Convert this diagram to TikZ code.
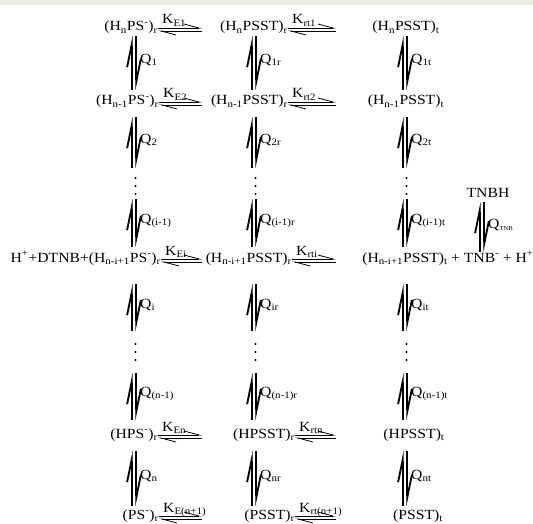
\documentclass[tikz,border=0pt]{standalone}
\usepackage{fontspec}
\setmainfont{Liberation Serif}[FakeStretch=1.12]
\usepackage{tikz}
\usetikzlibrary{arrows.meta,positioning}
\definecolor{bandgreen}{RGB}{235,239,224}
\newcommand{\sbs}[1]{\textsubscript{#1}}
\newcommand{\sps}[1]{\textsuperscript{#1}}
\newcommand{\spfont}{\fontsize{14}{16}\selectfont}
% vertical equilibrium: upper point, gap, lower point, gap, column, label
\newcommand{\eqv}[6]{%
  \path (#1 -| #5) ++(0,#2) coordinate (vt) (#3 -| #5) ++(0,-#4) coordinate (vb);
  \draw[vup] ([xshift=-2.4pt]vb) -- ([xshift=-2.4pt]vt);
  \draw[vup] ([xshift=2.4pt]vt) -- ([xshift=2.4pt]vb);
  \path (vt) -- (vb) node[qlab, pos=0.45, xshift=6pt] {#6};
}
% horizontal equilibrium: species node, end column, label
\newcommand{\eqh}[3]{%
  \path (#1.base east) coordinate (hs) (#1.base -| #2) coordinate (he);
  \draw[hup] ([yshift=3pt]hs) -- ([yshift=3pt]he);
  \draw[hup] (he) -- (hs);
  \node[klab] at ([xshift=4pt,yshift=7pt]hs) {#3};
}

\begin{document}
\begin{tikzpicture}[x=1pt, y=-1pt,
    sp/.style={inner sep=0pt, font=\spfont},
    klab/.style={inner sep=0pt, anchor=base west, font=\spfont},
    qlab/.style={inner sep=0pt, anchor=west, font=\spfont},
    vup/.style={line width=1.85pt, -{Straight Barb[left, length=22pt, width=9pt]}},
    hup/.style={line width=0.8pt, -{Straight Barb[left, length=15pt, width=8pt]}}
]
\useasboundingbox (0,0) rectangle (533,524);
\fill[bandgreen] (0,0) rectangle (533,5);

% columns and dotted rows
\coordinate (colA) at (134,0);
\coordinate (colB) at (254,0);
\coordinate (colC) at (405,0);
\coordinate (colD) at (482,0);
\coordinate (endA) at (202,0);
\coordinate (endB) at (336,0);
\coordinate (dots1) at (0,186);
\coordinate (dots2) at (0,352);

% species, column A (PS-)
\node[sp, anchor=base east] (A1) at (158,31) {(H\sbs{n}PS\sps{-})\sbs{r}};
\node[sp, anchor=base east] (A2) at (159,105) {(H\sbs{n-1}PS\sps{-})\sbs{r}};
\node[sp, anchor=base east] (A3) at (161,262) {H\sps{+}+DTNB+(H\sbs{n-i+1}PS\sps{-})\sbs{r}};
\node[sp, anchor=base east] (A4) at (158,438) {(HPS\sps{-})\sbs{r}};
\node[sp, anchor=base east] (A5) at (159,519) {(PS\sps{-})\sbs{r}};

% species, column B (PSST)r
\node[sp, anchor=base east] (B1) at (288,31) {(H\sbs{n}PSST)\sbs{r}};
\node[sp, anchor=base east] (B2) at (288,105) {(H\sbs{n-1}PSST)\sbs{r}};
\node[sp, anchor=base east] (B3) at (292,262) {(H\sbs{n-i+1}PSST)\sbs{r}};
\node[sp, anchor=base east] (B4) at (295,438) {(HPSST)\sbs{r}};
\node[sp, anchor=base east] (B5) at (295,519) {(PSST)\sbs{r}};

% species, column C (PSST)t
\node[sp, anchor=base] (C1) at (406,31) {(H\sbs{n}PSST)\sbs{t}};
\node[sp, anchor=base] (C2) at (406,105) {(H\sbs{n-1}PSST)\sbs{t}};
\node[sp, anchor=base] (C3) at (405,262) {(H\sbs{n-i+1}PSST)\sbs{t}};
\node[sp, anchor=base] (C4) at (414,438) {(HPSST)\sbs{t}};
\node[sp, anchor=base] (C5) at (418,519) {(PSST)\sbs{t}};
\node[sp, base right=3pt of C3] (tnb) {+ TNB\sps{-}};
\node[sp, base right=3pt of tnb] (hp) {+ H\sps{+}};
\node[sp, anchor=base] (TNBH) at (488,197) {TNBH};

% horizontal equilibria
\eqh{A1}{endA}{K\sbs{E1}}
\eqh{A2}{endA}{K\sbs{E2}}
\eqh{A3}{endA}{K\sbs{Ei}}
\eqh{A4}{endA}{K\sbs{En}}
\eqh{A5}{endA}{K\sbs{E(n+1)}}
\eqh{B1}{endB}{K\sbs{rt1}}
\eqh{B2}{endB}{K\sbs{rt2}}
\eqh{B3}{endB}{K\sbs{rti}}
\eqh{B4}{endB}{K\sbs{rtn}}
\eqh{B5}{endB}{K\sbs{rt(n+1)}}

% vertical equilibria
\foreach \c/\s in {A/{}, B/r, C/t} {
  \eqv{\c1.base}{5}{\c2.base}{15}{col\c}{Q\sbs{1\s}}
  \eqv{\c2.base}{12}{dots1}{18}{col\c}{Q\sbs{2\s}}
  \eqv{dots1}{13}{\c3.base}{15}{col\c}{Q\sbs{(i-1)\s}}
  \eqv{\c3.base}{22}{dots2}{21}{col\c}{Q\sbs{i\s}}
  \eqv{dots2}{21}{\c4.base}{18}{col\c}{Q\sbs{(n-1)\s}}
  \eqv{\c4.base}{13}{\c5.base}{13}{col\c}{Q\sbs{n\s}}
  \foreach \d in {dots1, dots2} {
    \path (\d -| col\c) coordinate (dd);
    \foreach \k in {-8, 0, 8}
      \fill ([xshift=1.5pt, yshift=\k pt]dd) circle (1.1);
  }
}
\eqv{TNBH.base}{5}{tnb.base}{10}{colD}{Q\sbs{\fontsize{6}{6}\selectfont TNB}}

\end{tikzpicture}
\end{document}
